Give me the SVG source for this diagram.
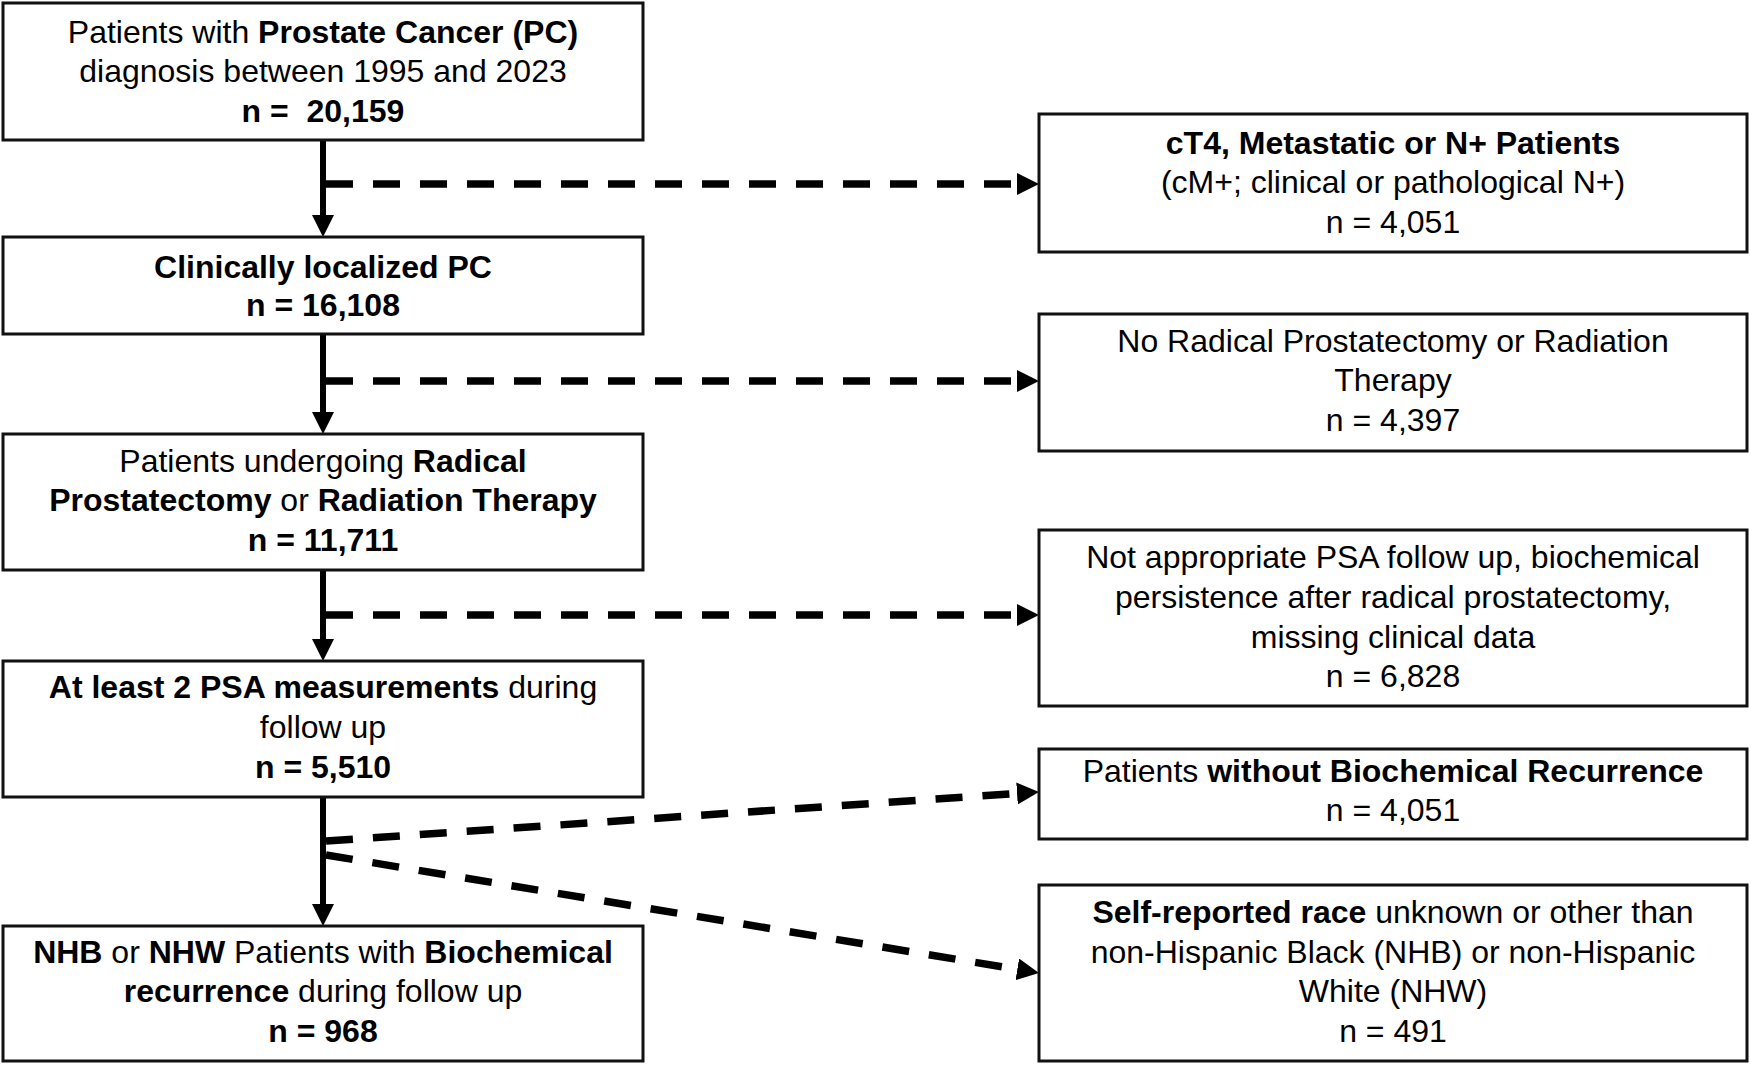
<svg xmlns="http://www.w3.org/2000/svg" width="1750" height="1067" viewBox="0 0 1750 1067">
  <style>
    .box { fill: #ffffff; stroke: #111111; stroke-width: 3; }
    .t { font-family: "Liberation Sans", Arial, sans-serif; font-size: 32px; fill: #000000; text-anchor: middle; white-space: pre; }
    .b { font-weight: bold; }
    .solid { stroke: #000000; stroke-width: 6; fill: none; }
    .dash { stroke: #000000; stroke-width: 7.5; fill: none; stroke-dasharray: 27 20; }
  </style>
  <defs>
    <marker id="ah" markerUnits="userSpaceOnUse" markerWidth="22" markerHeight="22" refX="7" refY="11" orient="auto" viewBox="0 0 22 22">
      <path d="M0,0 L22,11 L0,22 Z" fill="#000000"/>
    </marker>
  </defs>
  <rect width="1750" height="1067" fill="#ffffff"/>

  <g id="connectors">
    <line class="solid" x1="323" y1="140" x2="323" y2="222" marker-end="url(#ah)"/>
    <line class="solid" x1="323" y1="334" x2="323" y2="419" marker-end="url(#ah)"/>
    <line class="solid" x1="323" y1="570" x2="323" y2="646" marker-end="url(#ah)"/>
    <line class="solid" x1="323" y1="797" x2="323" y2="911" marker-end="url(#ah)"/>
    <line class="dash" x1="326" y1="184" x2="1024" y2="184" marker-end="url(#ah)"/>
    <line class="dash" x1="326" y1="381" x2="1024" y2="381" marker-end="url(#ah)"/>
    <line class="dash" x1="326" y1="615" x2="1024" y2="615" marker-end="url(#ah)"/>
    <line class="dash" x1="326" y1="841" x2="1024" y2="793" marker-end="url(#ah)"/>
    <line class="dash" x1="326" y1="855" x2="1024.2" y2="970.5" marker-end="url(#ah)"/>
  </g>

  <g id="node-total">
    <rect class="box" x="3" y="3" width="640" height="137"/>
    <text class="t" x="323" y="43">Patients with <tspan class="b">Prostate Cancer (PC)</tspan></text>
    <text class="t" x="323" y="82">diagnosis between 1995 and 2023</text>
    <text class="t b" x="323" y="122">n =  20,159</text>
  </g>

  <g id="node-localized">
    <rect class="box" x="3" y="237" width="640" height="97"/>
    <text class="t b" x="323" y="278">Clinically localized PC</text>
    <text class="t b" x="323" y="316">n = 16,108</text>
  </g>

  <g id="node-treated">
    <rect class="box" x="3" y="434" width="640" height="136"/>
    <text class="t" x="323" y="472">Patients undergoing <tspan class="b">Radical</tspan></text>
    <text class="t" x="323" y="511"><tspan class="b">Prostatectomy</tspan> or <tspan class="b">Radiation Therapy</tspan></text>
    <text class="t b" x="323" y="551">n = 11,711</text>
  </g>

  <g id="node-psa">
    <rect class="box" x="3" y="661" width="640" height="136"/>
    <text class="t" x="323" y="698"><tspan class="b">At least 2 PSA measurements</tspan> during</text>
    <text class="t" x="323" y="738">follow up</text>
    <text class="t b" x="323" y="778">n = 5,510</text>
  </g>

  <g id="node-final">
    <rect class="box" x="3" y="926" width="640" height="135"/>
    <text class="t" x="323" y="963"><tspan class="b">NHB</tspan> or <tspan class="b">NHW</tspan> Patients with <tspan class="b">Biochemical</tspan></text>
    <text class="t" x="323" y="1002"><tspan class="b">recurrence</tspan> during follow up</text>
    <text class="t b" x="323" y="1042">n = 968</text>
  </g>

  <g id="excl-metastatic">
    <rect class="box" x="1039" y="114" width="708" height="138"/>
    <text class="t b" x="1393" y="154">cT4, Metastatic or N+ Patients</text>
    <text class="t" x="1393" y="193">(cM+; clinical or pathological N+)</text>
    <text class="t" x="1393" y="233">n = 4,051</text>
  </g>

  <g id="excl-notreatment">
    <rect class="box" x="1039" y="314" width="708" height="137"/>
    <text class="t" x="1393" y="352">No Radical Prostatectomy or Radiation</text>
    <text class="t" x="1393" y="391">Therapy</text>
    <text class="t" x="1393" y="431">n = 4,397</text>
  </g>

  <g id="excl-followup">
    <rect class="box" x="1039" y="530" width="708" height="176"/>
    <text class="t" x="1393" y="568">Not appropriate PSA follow up, biochemical</text>
    <text class="t" x="1393" y="608">persistence after radical prostatectomy,</text>
    <text class="t" x="1393" y="648">missing clinical data</text>
    <text class="t" x="1393" y="687">n = 6,828</text>
  </g>

  <g id="excl-nobcr">
    <rect class="box" x="1039" y="749" width="708" height="90"/>
    <text class="t" x="1393" y="782">Patients <tspan class="b">without Biochemical Recurrence</tspan></text>
    <text class="t" x="1393" y="821">n = 4,051</text>
  </g>

  <g id="excl-race">
    <rect class="box" x="1039" y="885" width="708" height="176"/>
    <text class="t" x="1393" y="923"><tspan class="b">Self-reported race</tspan> unknown or other than</text>
    <text class="t" x="1393" y="963">non-Hispanic Black (NHB) or non-Hispanic</text>
    <text class="t" x="1393" y="1002">White (NHW)</text>
    <text class="t" x="1393" y="1042">n = 491</text>
  </g>
</svg>
